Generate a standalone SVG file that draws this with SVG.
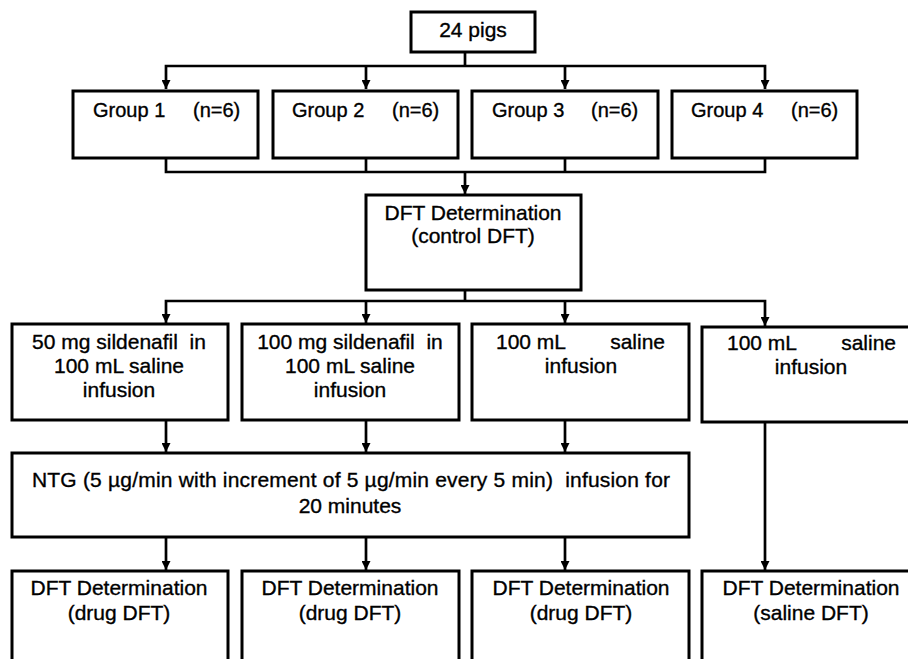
<svg xmlns="http://www.w3.org/2000/svg" width="908" height="659" viewBox="0 0 908 659">
<style>
.box{fill:#fff;stroke:#000;stroke-width:3}
.ln{fill:none;stroke:#000;stroke-width:2.7}
.arr{fill:none;stroke:#000;stroke-width:2.7;marker-end:url(#ah)}
text{font-family:"Liberation Sans",Arial,sans-serif;font-size:21px;fill:#000;stroke:#000;stroke-width:0.35;text-anchor:middle;white-space:pre}
.g{font-size:20px;text-anchor:start}
</style>
<defs>
<marker id="ah" viewBox="0 0 10 10" refX="10" refY="5" markerWidth="9" markerHeight="9" markerUnits="userSpaceOnUse" orient="auto">
<path d="M0,0 L10,5 L0,10 z" fill="#000"/>
</marker>
</defs>
<rect width="908" height="659" fill="#fff"/>
<g id="connectors">
<path class="ln" d="M465 52 V66"/>
<path class="arr" d="M465 66 H166 V89"/>
<path class="arr" d="M366 66 V89"/>
<path class="arr" d="M465 66 H765 V89"/>
<path class="arr" d="M565 66 V89"/>
<path class="ln" d="M166 158 V172 H765 V158"/>
<path class="ln" d="M366 158 V172"/>
<path class="ln" d="M565 158 V172"/>
<path class="arr" d="M465 172 V194"/>
<path class="ln" d="M465 290 V301"/>
<path class="arr" d="M465 301 H166 V323"/>
<path class="arr" d="M366 301 V323"/>
<path class="arr" d="M465 301 H765 V326"/>
<path class="arr" d="M565 301 V323"/>
<path class="arr" d="M166 420 V452"/>
<path class="arr" d="M366 420 V452"/>
<path class="arr" d="M565 420 V452"/>
<path class="arr" d="M166 537 V570"/>
<path class="arr" d="M366 537 V570"/>
<path class="arr" d="M565 537 V570"/>
<path class="arr" d="M765 422 V570"/>
</g>
<g id="pigs">
<rect class="box" x="411" y="12" width="124" height="40"/>
<text x="473" y="37">24 pigs</text>
</g>
<g id="group1">
<rect class="box" x="73" y="91" width="185" height="67"/>
<text class="g" x="93" y="117">Group 1</text><text class="g" x="193" y="117">(n=6)</text>
</g>
<g id="group2">
<rect class="box" x="273" y="91" width="185" height="67"/>
<text class="g" x="292" y="117">Group 2</text><text class="g" x="392" y="117">(n=6)</text>
</g>
<g id="group3">
<rect class="box" x="472" y="91" width="186" height="67"/>
<text class="g" x="492" y="117">Group 3</text><text class="g" x="591" y="117">(n=6)</text>
</g>
<g id="group4">
<rect class="box" x="672" y="91" width="185" height="67"/>
<text class="g" x="691" y="117">Group 4</text><text class="g" x="791" y="117">(n=6)</text>
</g>
<g id="control">
<rect class="box" x="366" y="195" width="215" height="95"/>
<text x="473" y="220">DFT Determination</text>
<text x="473" y="243">(control DFT)</text>
</g>
<g id="sil50">
<rect class="box" x="12" y="324" width="216" height="96"/>
<text x="119" y="349">50 mg sildenafil  in</text>
<text x="119" y="373">100 mL saline</text>
<text x="119" y="397">infusion</text>
</g>
<g id="sil100">
<rect class="box" x="242" y="324" width="217" height="96"/>
<text x="350" y="349">100 mg sildenafil  in</text>
<text x="350" y="373">100 mL saline</text>
<text x="350" y="397">infusion</text>
</g>
<g id="saline3">
<rect class="box" x="472" y="324" width="217" height="96"/>
<text y="349"><tspan x="496" style="text-anchor:start">100 mL</tspan><tspan x="665" style="text-anchor:end">saline</tspan></text>
<text x="581" y="373">infusion</text>
</g>
<g id="saline4">
<rect class="box" x="702" y="327" width="217" height="95"/>
<text y="350"><tspan x="727" style="text-anchor:start">100 mL</tspan><tspan x="896" style="text-anchor:end">saline</tspan></text>
<text x="811" y="374">infusion</text>
</g>
<g id="ntg">
<rect class="box" x="12" y="453" width="677" height="84"/>
<text x="32" y="487" style="text-anchor:start" textLength="638" lengthAdjust="spacing">NTG (5 µg/min with increment of 5 µg/min every 5 min)  infusion for</text>
<text x="350" y="513">20 minutes</text>
</g>
<g id="drug1">
<rect class="box" x="12" y="571" width="216" height="120"/>
<text x="119" y="595">DFT Determination</text>
<text x="119" y="620">(drug DFT)</text>
</g>
<g id="drug2">
<rect class="box" x="242" y="571" width="217" height="120"/>
<text x="350" y="595">DFT Determination</text>
<text x="350" y="620">(drug DFT)</text>
</g>
<g id="drug3">
<rect class="box" x="472" y="571" width="217" height="120"/>
<text x="581" y="595">DFT Determination</text>
<text x="581" y="620">(drug DFT)</text>
</g>
<g id="saline-dft">
<rect class="box" x="702" y="571" width="217" height="120"/>
<text x="811" y="595">DFT Determination</text>
<text x="811" y="620">(saline DFT)</text>
</g>
</svg>
